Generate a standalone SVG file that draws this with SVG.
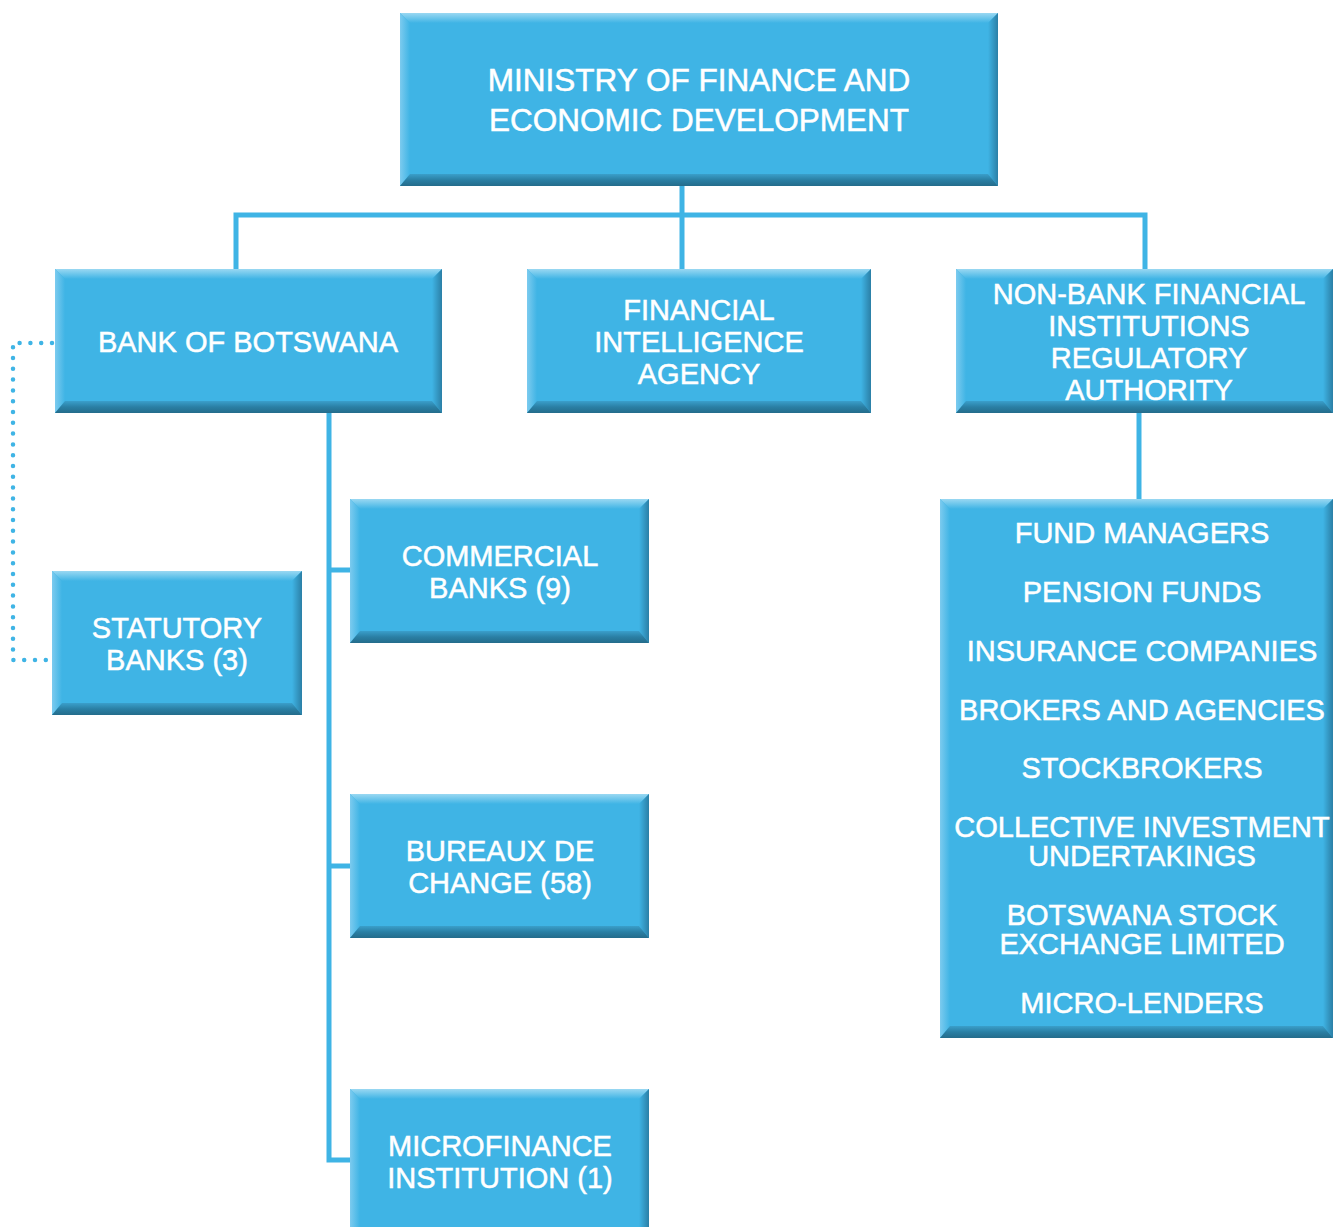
<svg xmlns="http://www.w3.org/2000/svg" width="1333" height="1227" viewBox="0 0 1333 1227">
<defs>
<linearGradient id="gTop" x1="0" y1="0" x2="0" y2="1"><stop offset="0" stop-color="#9ad8f2"/><stop offset="1" stop-color="#3fb4e5"/></linearGradient>
<linearGradient id="gBot" x1="0" y1="0" x2="0" y2="1"><stop offset="0" stop-color="#3a9fcb"/><stop offset="0.5" stop-color="#2a7fa4"/><stop offset="1" stop-color="#246c8b"/></linearGradient>
<linearGradient id="gLeft" x1="0" y1="0" x2="1" y2="0"><stop offset="0" stop-color="#7ccbef"/><stop offset="1" stop-color="#3fb4e5"/></linearGradient>
<linearGradient id="gRight" x1="0" y1="0" x2="1" y2="0"><stop offset="0" stop-color="#3fb4e5"/><stop offset="1" stop-color="#2b7fa6"/></linearGradient>
</defs>
<style>
.base{fill:#3fb4e5}
.t{fill:url(#gTop)}
.b{fill:url(#gBot)}
.l{fill:url(#gLeft)}
.r{fill:url(#gRight)}
text{font-family:"Liberation Sans",Arial,Helvetica,sans-serif;font-size:29px;fill:#ffffff;stroke:#ffffff;stroke-width:0.5;text-anchor:middle}
.big{font-size:31.5px}
.line{fill:none;stroke:#3fb4e5;stroke-width:5}
.dot{fill:none;stroke:#3fb4e5;stroke-width:4.5;stroke-linecap:round;stroke-dasharray:0 10.8}
</style>
<g id="connectors">
<path class="line" d="M682 186V215M236 270V215H1145V270M682 215V270"/>
<path class="line" d="M329 413V1160H350M329 570H350M329 866H350"/>
<path class="line" d="M1139 413V499"/>
<path class="dot" d="M52 343H13V660H48"/>
</g>
<g id="ministry">
<rect class="base" x="400" y="13" width="598" height="173"/>
<polygon class="t" points="400,13 998,13 988,23 410,23"/>
<polygon class="l" points="400,13 410,23 410,174 400,186"/>
<polygon class="r" points="998,13 988,23 988,174 998,186"/>
<polygon class="b" points="400,186 998,186 988,174 410,174"/>
<text class="big" x="699" y="91">MINISTRY OF FINANCE AND</text>
<text class="big" x="699" y="131">ECONOMIC DEVELOPMENT</text>
</g>
<g id="bank">
<rect class="base" x="55" y="269" width="387" height="144"/>
<polygon class="t" points="55,269 442,269 432,279 65,279"/>
<polygon class="l" points="55,269 65,279 65,401 55,413"/>
<polygon class="r" points="442,269 432,279 432,401 442,413"/>
<polygon class="b" points="55,413 442,413 432,401 65,401"/>
<text x="248" y="352">BANK OF BOTSWANA</text>
</g>
<g id="fia">
<rect class="base" x="527" y="269" width="344" height="144"/>
<polygon class="t" points="527,269 871,269 861,279 537,279"/>
<polygon class="l" points="527,269 537,279 537,401 527,413"/>
<polygon class="r" points="871,269 861,279 861,401 871,413"/>
<polygon class="b" points="527,413 871,413 861,401 537,401"/>
<text x="699" y="320">FINANCIAL</text>
<text x="699" y="352">INTELLIGENCE</text>
<text x="699" y="384">AGENCY</text>
</g>
<g id="nbfira">
<rect class="base" x="956" y="269" width="377" height="144"/>
<polygon class="t" points="956,269 1333,269 1323,279 966,279"/>
<polygon class="l" points="956,269 966,279 966,401 956,413"/>
<polygon class="r" points="1333,269 1323,279 1323,401 1333,413"/>
<polygon class="b" points="956,413 1333,413 1323,401 966,401"/>
<text x="1149" y="304">NON-BANK FINANCIAL</text>
<text x="1149" y="336">INSTITUTIONS</text>
<text x="1149" y="368">REGULATORY</text>
<text x="1149" y="400">AUTHORITY</text>
</g>
<g id="commercial">
<rect class="base" x="350" y="499" width="299" height="144"/>
<polygon class="t" points="350,499 649,499 639,509 360,509"/>
<polygon class="l" points="350,499 360,509 360,631 350,643"/>
<polygon class="r" points="649,499 639,509 639,631 649,643"/>
<polygon class="b" points="350,643 649,643 639,631 360,631"/>
<text x="500" y="566">COMMERCIAL</text>
<text x="500" y="598">BANKS (9)</text>
</g>
<g id="statutory">
<rect class="base" x="52" y="571" width="250" height="144"/>
<polygon class="t" points="52,571 302,571 292,581 62,581"/>
<polygon class="l" points="52,571 62,581 62,703 52,715"/>
<polygon class="r" points="302,571 292,581 292,703 302,715"/>
<polygon class="b" points="52,715 302,715 292,703 62,703"/>
<text x="177" y="638">STATUTORY</text>
<text x="177" y="670">BANKS (3)</text>
</g>
<g id="bureaux">
<rect class="base" x="350" y="794" width="299" height="144"/>
<polygon class="t" points="350,794 649,794 639,804 360,804"/>
<polygon class="l" points="350,794 360,804 360,926 350,938"/>
<polygon class="r" points="649,794 639,804 639,926 649,938"/>
<polygon class="b" points="350,938 649,938 639,926 360,926"/>
<text x="500" y="861">BUREAUX DE</text>
<text x="500" y="893">CHANGE (58)</text>
</g>
<g id="microfinance">
<rect class="base" x="350" y="1089" width="299" height="138"/>
<polygon class="t" points="350,1089 649,1089 639,1099 360,1099"/>
<polygon class="l" points="350,1089 360,1099 360,1227 350,1227"/>
<polygon class="r" points="649,1089 639,1099 639,1227 649,1227"/>
<text x="500" y="1156">MICROFINANCE</text>
<text x="500" y="1188">INSTITUTION (1)</text>
</g>
<g id="nbfi-list">
<rect class="base" x="940" y="499" width="393" height="539"/>
<polygon class="t" points="940,499 1333,499 1323,509 950,509"/>
<polygon class="l" points="940,499 950,509 950,1026 940,1038"/>
<polygon class="r" points="1333,499 1323,509 1323,1026 1333,1038"/>
<polygon class="b" points="940,1038 1333,1038 1323,1026 950,1026"/>
<text x="1142" y="543">FUND MANAGERS</text>
<text x="1142" y="602">PENSION FUNDS</text>
<text x="1142" y="661">INSURANCE COMPANIES</text>
<text x="1142" y="720">BROKERS AND AGENCIES</text>
<text x="1142" y="778">STOCKBROKERS</text>
<text x="1142" y="837">COLLECTIVE INVESTMENT</text>
<text x="1142" y="866">UNDERTAKINGS</text>
<text x="1142" y="925">BOTSWANA STOCK</text>
<text x="1142" y="954">EXCHANGE LIMITED</text>
<text x="1142" y="1013">MICRO-LENDERS</text>
</g>
</svg>
